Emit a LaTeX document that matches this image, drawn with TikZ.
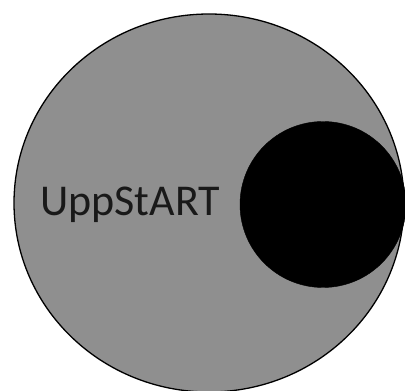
\documentclass[tikz,border=0pt]{standalone}
\usepackage{fontspec}
\setmainfont{Carlito}
\usepackage{tikz}
\usetikzlibrary{shapes.geometric}
\definecolor{outergray}{RGB}{143,143,143}

\begin{document}
\begin{tikzpicture}[x=1pt,y=1pt,
  outer/.style={draw,ellipse,line width=1.3pt,fill=outergray,inner sep=0pt,
                minimum width=390pt,minimum height=378pt},
  inner/.style={draw,circle,fill=black,inner sep=0pt,minimum size=166pt},
  lbl/.style={font=\fontsize{44}{44}\selectfont,text=black!90,inner sep=0pt,anchor=base west}]
  \useasboundingbox (0,0) rectangle (405,391);
  \node[outer] (big) at (209,188) {};
  \node[inner] (small) at (323,186.5) {};
  \node[lbl] (name) at (40,175) {UppStART};
\end{tikzpicture}
\end{document}
